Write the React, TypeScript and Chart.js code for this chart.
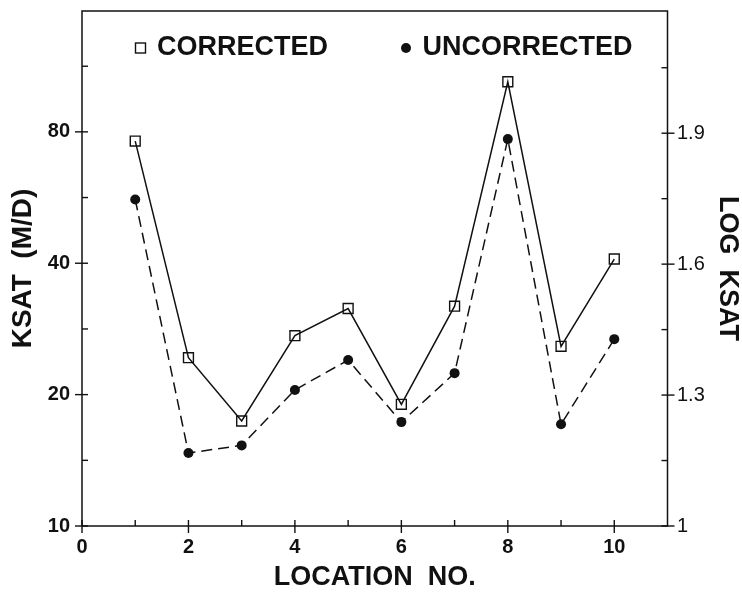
import React, { useEffect, useRef } from "react";
import { Chart, registerables } from "chart.js";

Chart.register(...registerables);

// ---- data ----
const locations = [1, 2, 3, 4, 5, 6, 7, 8, 9, 10];
const corrected = [76.2, 24.3, 17.4, 27.3, 31.5, 19.0, 31.9, 104.2, 25.8, 40.9];
const uncorrected = [56.0, 14.7, 15.3, 20.5, 24.0, 17.3, 22.4, 77.0, 17.1, 26.8];

const xTickValues = [0, 1, 2, 3, 4, 5, 6, 7, 8, 9, 10];
const xTickLabels = ["0", "", "2", "", "4", "", "6", "", "8", "", "10"];
const leftTickValues = [10, 14.14, 20, 28.28, 40, 56.57, 80, 113.1];
const leftTickLabels = ["10", "", "20", "", "40", "", "80", ""];
const rightTickValues = [1, 1.15, 1.3, 1.45, 1.6, 1.75, 1.9, 2.05];
const rightTickLabels = ["1", "", "1.3", "", "1.6", "", "1.9", ""];

const X_MIN = 0;
const X_MAX = 11;
const LOG_MIN = 1;
const LOG_MAX = 2.18;

const FONT = '"Liberation Sans", Arial, Helvetica, sans-serif';
const INK = "#111";

const frameTicksPlugin = {
  id: "frameTicks",
  afterDatasetsDraw(chart: any) {
    const { ctx, chartArea: a, scales } = chart;
    ctx.save();
    ctx.strokeStyle = INK;
    ctx.lineWidth = 1.5;
    ctx.strokeRect(a.left, a.top, a.right - a.left, a.bottom - a.top);
    ctx.lineWidth = 1.4;
    const out = 7;
    const inn = 6;
    const line = (x1: number, y1: number, x2: number, y2: number) => {
      ctx.beginPath();
      ctx.moveTo(x1, y1);
      ctx.lineTo(x2, y2);
      ctx.stroke();
    };
    scales.x.ticks.forEach((t: any) => {
      const px = scales.x.getPixelForValue(t.value);
      const major = t.label !== "" && t.label !== undefined;
      line(px, a.bottom + (major ? out : 0), px, a.bottom - inn);
    });
    scales.y.ticks.forEach((t: any) => {
      const py = scales.y.getPixelForValue(t.value);
      const major = t.label !== "" && t.label !== undefined;
      line(a.left - (major ? out : 0), py, a.left + inn, py);
    });
    scales.y2.ticks.forEach((t: any) => {
      const py = scales.y2.getPixelForValue(t.value);
      const major = t.label !== "" && t.label !== undefined;
      line(a.right + (major ? out : 0), py, a.right - inn, py);
    });
    ctx.restore();
  },
};

const insideLegendPlugin = {
  id: "insideLegend",
  afterDraw(chart: any) {
    const { ctx, chartArea: a } = chart;
    ctx.save();
    ctx.font = `bold 27px ${FONT}`;
    ctx.textBaseline = "middle";
    ctx.fillStyle = INK;
    ctx.strokeStyle = INK;
    ctx.lineWidth = 1.4;
    let cx = a.left + 58.5;
    const cy = a.top + 37;
    chart.data.datasets.forEach((ds: any) => {
      if (ds.pointStyle === "rect") {
        ctx.strokeRect(cx - 5, cy - 5, 10, 10);
      } else {
        ctx.beginPath();
        ctx.arc(cx, cy, 5, 0, Math.PI * 2);
        ctx.fill();
      }
      const tx = cx + 16.5;
      ctx.fillText(ds.label, tx, cy);
      cx = tx + ctx.measureText(ds.label).width + 78;
    });
    ctx.restore();
  },
};

const fixVerticalPadding = (s: any) => {
  s.paddingTop = 11;
  s.paddingBottom = 0;
};

export default function App() {
  const ref = useRef<HTMLCanvasElement | null>(null);

  useEffect(() => {
    if (!ref.current) return;
    const chart = new Chart(ref.current, {
      type: "line",
      data: {
        datasets: [
          {
            label: "CORRECTED",
            data: locations.map((x, i) => ({ x, y: corrected[i] })),
            borderColor: INK,
            borderWidth: 1.5,
            pointStyle: "rect",
            pointRadius: 7,
            pointBorderWidth: 1.4,
            pointBackgroundColor: "rgba(255,255,255,0)",
            pointBorderColor: INK,
            tension: 0,
            fill: false,
            yAxisID: "y",
          },
          {
            label: "UNCORRECTED",
            data: locations.map((x, i) => ({ x, y: uncorrected[i] })),
            borderColor: INK,
            borderWidth: 1.5,
            borderDash: [11, 6],
            pointStyle: "circle",
            pointRadius: 5,
            pointBorderWidth: 0,
            pointBackgroundColor: INK,
            pointBorderColor: INK,
            tension: 0,
            fill: false,
            yAxisID: "y",
          },
        ],
      },
      options: {
        responsive: false,
        animation: false,
        layout: { padding: { top: 0, left: 0, right: 0, bottom: 0 } },
        plugins: {
          legend: { display: false },
          tooltip: { enabled: false },
        },
        scales: {
          x: {
            type: "linear",
            min: X_MIN,
            max: X_MAX,
            grid: { display: false, drawTicks: false },
            border: { display: false },
            afterBuildTicks: (s: any) => {
              s.ticks = xTickValues.map((v) => ({ value: v }));
            },
            afterFit: (s: any) => {
              s.height = 66;
              s.paddingLeft = 0;
              s.paddingRight = 0;
            },
            ticks: {
              autoSkip: false,
              maxRotation: 0,
              padding: 9,
              color: INK,
              font: { family: FONT, size: 20, weight: "bold" },
              callback: (_v: any, i: number) => xTickLabels[i],
            },
            title: {
              display: true,
              text: "LOCATION  NO.",
              color: INK,
              font: { family: FONT, size: 27, weight: "bold", lineHeight: 1 },
              padding: { top: 0, bottom: 1 },
            },
          },
          y: {
            type: "logarithmic",
            position: "left",
            min: Math.pow(10, LOG_MIN),
            max: Math.pow(10, LOG_MAX),
            grid: { display: false, drawTicks: false },
            border: { display: false },
            afterBuildTicks: (s: any) => {
              s.ticks = leftTickValues.map((v) => ({ value: v }));
            },
            afterFit: (s: any) => {
              s.width = 82;
              fixVerticalPadding(s);
            },
            ticks: {
              autoSkip: false,
              padding: 12,
              color: INK,
              font: { family: FONT, size: 20, weight: "bold" },
              callback: (_v: any, i: number) => leftTickLabels[i],
            },
            title: {
              display: true,
              text: "KSAT  (M/D)",
              color: INK,
              font: { family: FONT, size: 28, weight: "bold", lineHeight: 1 },
              padding: { top: 9, bottom: 0 },
            },
          },
          y2: {
            type: "linear",
            position: "right",
            min: LOG_MIN,
            max: LOG_MAX,
            grid: { display: false, drawTicks: false },
            border: { display: false },
            afterBuildTicks: (s: any) => {
              s.ticks = rightTickValues.map((v) => ({ value: v }));
            },
            afterFit: (s: any) => {
              s.width = 74.5;
              fixVerticalPadding(s);
            },
            ticks: {
              autoSkip: false,
              padding: 9.5,
              color: INK,
              font: { family: FONT, size: 20 },
              callback: (_v: any, i: number) => rightTickLabels[i],
            },
            title: {
              display: true,
              text: "LOG  KSAT",
              color: INK,
              font: { family: FONT, size: 27, weight: "bold", lineHeight: 1 },
              padding: { top: 1.5, bottom: 0 },
            },
          },
        },
      },
      plugins: [frameTicksPlugin, insideLegendPlugin],
    } as any);
    return () => chart.destroy();
  }, []);

  return (
    <div style={{ position: "absolute", left: 0, top: 0, width: 742, height: 592, background: "#fff" }}>
      <canvas ref={ref} width={742} height={592} style={{ display: "block" }} />
    </div>
  );
}
